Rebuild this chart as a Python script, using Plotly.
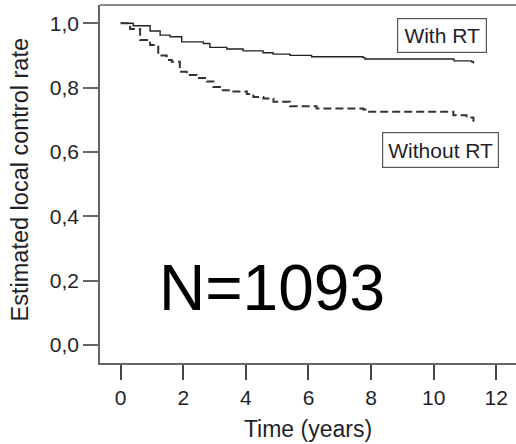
import plotly.graph_objects as go

# Kaplan-Meier style curves
with_rt_time = [0, 0.40, 0.94, 1.26, 1.58, 1.95, 2.64, 2.85, 3.39, 3.91, 4.55, 4.87, 5.41, 6.10, 7.74, 7.80, 10.62, 10.65, 11.21, 11.27]
with_rt_rate = [1.0, 0.992, 0.976, 0.963, 0.958, 0.942, 0.937, 0.925, 0.920, 0.914, 0.908, 0.904, 0.900, 0.896, 0.893, 0.889, 0.888, 0.883, 0.880, 0.875]

without_rt_time = [0, 0.30, 0.62, 0.94, 1.20, 1.47, 1.63, 1.89, 2.11, 2.43, 2.75, 2.96, 3.17, 3.60, 4.03, 4.24, 4.56, 4.88, 5.41, 6.26, 7.75, 7.86, 10.52, 10.63, 11.05, 11.27]
without_rt_rate = [1.0, 0.982, 0.948, 0.932, 0.900, 0.886, 0.880, 0.849, 0.839, 0.830, 0.819, 0.802, 0.792, 0.788, 0.780, 0.771, 0.766, 0.756, 0.742, 0.735, 0.732, 0.725, 0.725, 0.714, 0.707, 0.694]

x_ticks = [0, 2, 4, 6, 8, 10, 12]
y_ticks = [0.0, 0.2, 0.4, 0.6, 0.8, 1.0]
y_tick_labels = ["0,0", "0,2", "0,4", "0,6", "0,8", "1,0"]

FONT = "Liberation Sans, Arial, sans-serif"
AXIS_COL = "#666666"
TXT_COL = "#1f1f2a"

fig = go.Figure()
fig.add_trace(go.Scatter(x=with_rt_time, y=with_rt_rate, mode="lines", line_shape="hv",
                         line=dict(color="#222222", width=1.4), name="With RT", showlegend=False))
fig.add_trace(go.Scatter(x=without_rt_time, y=without_rt_rate, mode="lines", line_shape="hv",
                         line=dict(color="#333333", width=2, dash="8px,4px"), name="Without RT", showlegend=False))

fig.update_layout(
    width=516, height=444,
    margin=dict(l=100, r=0, t=5, b=81),
    paper_bgcolor="white", plot_bgcolor="white",
    font=dict(family=FONT, color=TXT_COL),
    xaxis=dict(range=[-0.661, 12.63], tickvals=x_ticks, showgrid=False, zeroline=False,
               showline=True, linecolor=AXIS_COL, linewidth=1.5,
               ticks="outside", ticklen=15, tickwidth=1.5, tickcolor="#444444",
               tickfont=dict(size=21, color=TXT_COL),
               title=dict(text="Time (years)", font=dict(size=23, color=TXT_COL), standoff=13)),
    yaxis=dict(range=[-0.056, 1.0566], tickvals=y_ticks, ticktext=y_tick_labels, showgrid=False, zeroline=False,
               showline=True, linecolor=AXIS_COL, linewidth=1.5,
               ticks="outside", ticklen=15, tickwidth=1.5, tickcolor=AXIS_COL,
               tickfont=dict(size=21, color=TXT_COL)),
    shapes=[dict(type="line", xref="paper", yref="paper", x0=0, x1=1, y0=1, y1=1,
                 line=dict(color=AXIS_COL, width=1.5))],
    annotations=[
        dict(text="Estimated local control rate", xref="paper", yref="paper", x=-0.1923, y=0.51,
             textangle=-90, showarrow=False, xanchor="center", yanchor="middle",
             font=dict(size=23.5, color=TXT_COL)),
        dict(text="N=1093", x=4.82, y=0.176, showarrow=False, xanchor="center", yanchor="middle",
             font=dict(size=64, color="black")),
        dict(text="With RT", x=10.27, y=0.961, showarrow=False, xanchor="center", yanchor="middle",
             width=88, height=33, borderpad=0, bordercolor="#555555", borderwidth=1.2,
             bgcolor="white", font=dict(size=21, color=TXT_COL)),
        dict(text="Without RT", x=10.23, y=0.605, showarrow=False, xanchor="center", yanchor="middle",
             width=115, height=34, borderpad=0, bordercolor="#555555", borderwidth=1.2,
             bgcolor="white", font=dict(size=21, color=TXT_COL)),
    ],
)

fig.write_html("out.html")
